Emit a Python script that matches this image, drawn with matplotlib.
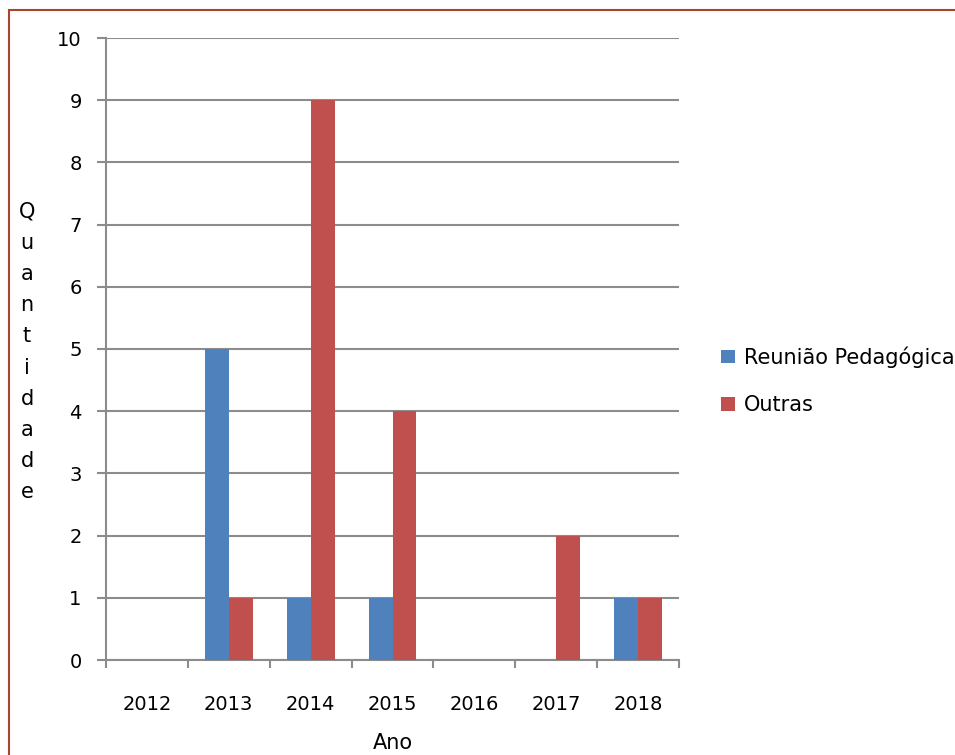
import matplotlib.pyplot as plt
import numpy as np
from matplotlib.patches import Rectangle

anos = ["2012", "2013", "2014", "2015", "2016", "2017", "2018"]
reuniao_pedagogica = [0, 5, 1, 1, 0, 0, 1]
outras = [0, 1, 9, 4, 0, 2, 1]

AZUL = "#4F81BD"
VERMELHO = "#C0504D"
GRADE = "#8C8C8C"

plt.rcParams["font.family"] = ["DejaVu Sans"]

fig = plt.figure(figsize=(9.55, 7.55), dpi=100)
ax = fig.add_axes([106 / 955, 1 - 660 / 755, (679 - 106) / 955, (660 - 38) / 755])

# moldura do gráfico
fig.patches.append(Rectangle((9 / 955, -0.05), 1.1, 1 - 10 / 755 + 0.05,
                             transform=fig.transFigure, fill=False,
                             edgecolor="#A8452E", linewidth=1.5))

x = np.arange(len(anos))
w = 0.293
ax.bar(x - w / 2, reuniao_pedagogica, w, color=AZUL, label="Reunião Pedagógica", zorder=3)
ax.bar(x + w / 2, outras, w, color=VERMELHO, label="Outras", zorder=3)

ax.set_xlim(-0.5, len(anos) - 0.5)
ax.set_ylim(0, 10)
ax.set_yticks(range(0, 11))
ax.yaxis.grid(True, color=GRADE, linewidth=1.5, zorder=0)
ax.set_axisbelow(True)

ax.set_xticks(x)
ax.set_xticklabels(anos)
ax.set_xticks(np.arange(-0.5, len(anos)), minor=True)
ax.tick_params(axis="x", which="major", length=0, pad=25, labelsize=14)
ax.tick_params(axis="x", which="minor", length=6, width=1.5, color=GRADE)
ax.tick_params(axis="y", length=6.5, width=1.5, color=GRADE, pad=11, labelsize=14)

for lado in ("top", "right"):
    ax.spines[lado].set_visible(False)
for lado in ("left", "bottom"):
    ax.spines[lado].set_color(GRADE)
    ax.spines[lado].set_linewidth(1.5)

ax.set_xlabel("Ano", fontsize=15, labelpad=14)
fig.text(27 / 955, 1 - 352 / 755, "\n".join("Quantidade"), fontsize=15,
         ha="center", va="center", linespacing=1.7)

leg = fig.legend(loc="upper left", bbox_to_anchor=(713 / 955, 1 - 338 / 755),
                 frameon=False, fontsize=15, handlelength=0.65, handleheight=0.65,
                 handletextpad=0.45, labelspacing=1.3, borderaxespad=0)

fig.savefig("out.png", dpi=100)
